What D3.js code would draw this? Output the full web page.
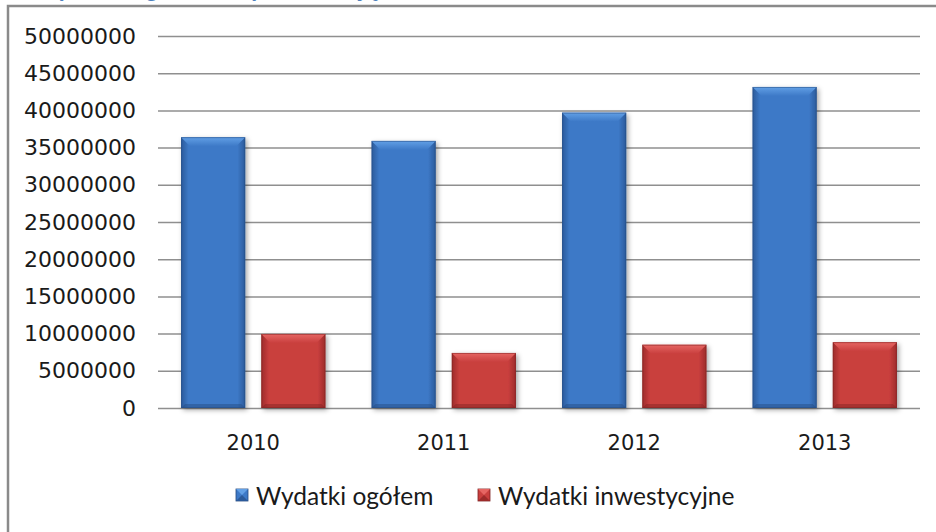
<!DOCTYPE html>
<html>
<head>
<meta charset="utf-8">
<script src="https://cdn.jsdelivr.net/npm/d3@7"></script>
<style>
  body { margin: 0; background: #fff; }
  svg { display: block; }
</style>
</head>
<body>
<svg width="936" height="532"></svg>
<script>
const width = 936;
const height = 532;

// data
const years = ['2010', '2011', '2012', '2013'];
const seriesNames = ['Wydatki ogółem', 'Wydatki inwestycyjne'];
const ogolem = [36400000, 35900000, 39700000, 43150000];
const inwestycyjne = [9950000, 7400000, 8500000, 8850000];
const yTicks = [0, 5000000, 10000000, 15000000, 20000000, 25000000, 30000000, 35000000, 40000000, 45000000, 50000000];

const plot = {left: 158, right: 920, top: 36, bottom: 408};
const palettes = [
    {edge: '#2b5a9a', mid: '#3d79c7', light: '#62a0e6', dark: '#23497f'},
    {edge: '#9c2b2a', mid: '#c93f3e', light: '#e66663', dark: '#7e2221'}
];

const svg = d3.select('svg');
const defs = svg.append('defs');

// soft drop shadow under the bars
const shadow = defs.append('filter').attr('id', 'shadow')
    .attr('x', '-20%').attr('y', '-20%').attr('width', '150%').attr('height', '150%');
shadow.append('feDropShadow')
    .attr('dx', 2).attr('dy', 2).attr('stdDeviation', 2.5)
    .attr('flood-color', '#000').attr('flood-opacity', 0.35);

palettes.forEach((p, i) => {
    const body = defs.append('linearGradient').attr('id', 'body' + i)
        .attr('x1', 0).attr('x2', 1).attr('y1', 0).attr('y2', 0);
    [[0, p.edge], [0.12, p.mid], [0.88, p.mid], [1, p.edge]].forEach(s => {
        body.append('stop').attr('offset', s[0]).attr('stop-color', s[1]);
    });
    const top = defs.append('linearGradient').attr('id', 'top' + i)
        .attr('x1', 0).attr('x2', 0).attr('y1', 0).attr('y2', 1);
    top.append('stop').attr('offset', 0).attr('stop-color', p.light);
    top.append('stop').attr('offset', 1).attr('stop-color', p.mid);
});

// title, mostly cut off by the top of the picture (as in the source)
svg.append('text')
    .attr('x', 34).attr('y', -3)
    .attr('font-family', 'Lato, "Open Sans", sans-serif')
    .attr('font-style', 'italic').attr('font-weight', 'bold')
    .attr('font-size', 26).attr('fill', '#4f81bd')
    .text('Wydatki ogółem i wydatki majątkowe w latach 2010 - 2013');

// frame
svg.append('rect')
    .attr('x', 8).attr('y', 6)
    .attr('width', width + 20).attr('height', height + 20)
    .attr('fill', 'none').attr('stroke', '#8a8a8a').attr('stroke-width', 2.5);

const y = d3.scaleLinear().domain([0, 50000000]).range([plot.bottom, plot.top]);
const x0 = d3.scaleBand().domain(years).range([plot.left, plot.right]).paddingInner(0.242).paddingOuter(0.121);
const x1 = d3.scaleBand().domain([0, 1]).range([0, x0.bandwidth()]).paddingInner(0.2);

// gridlines + y labels
const yAxis = d3.axisLeft(y)
    .tickValues(yTicks)
    .tickSize(-(plot.right - plot.left))
    .tickPadding(22)
    .tickFormat(d3.format('d'));

const yg = svg.append('g')
    .attr('transform', 'translate(' + plot.left + ',0)')
    .call(yAxis);
yg.select('.domain').remove();
yg.selectAll('.tick line').attr('stroke', '#8f8f8f').attr('stroke-width', 1.5);
yg.selectAll('.tick text')
    .attr('font-family', '"DejaVu Sans", sans-serif')
    .attr('font-size', 22).attr('fill', '#1a1a1a');

// x labels
const xAxis = d3.axisBottom(x0).tickSize(0).tickPadding(27);
const xg = svg.append('g')
    .attr('transform', 'translate(0,' + plot.bottom + ')')
    .call(xAxis);
xg.select('.domain').remove();
xg.selectAll('.tick text')
    .attr('font-family', '"DejaVu Sans", sans-serif')
    .attr('font-size', 21).attr('fill', '#1a1a1a');

// bars
const rows = years.map((yr, i) => ({year: yr, values: [ogolem[i], inwestycyjne[i]]}));

function bevelBar(g, bx, by, bw, bh, i) {
    const p = palettes[i];
    const b = Math.min(9, bh / 2);
    g.append('rect')
        .attr('x', bx).attr('y', by).attr('width', bw).attr('height', bh)
        .attr('fill', 'url(#body' + i + ')')
        .attr('filter', 'url(#shadow)');
    // top bevel
    g.append('path')
        .attr('d', `M${bx},${by}L${bx + bw},${by}L${bx + bw - b},${by + b}L${bx + b},${by + b}Z`)
        .attr('fill', 'url(#top' + i + ')');
    // bottom bevel
    g.append('path')
        .attr('d', `M${bx},${by + bh}L${bx + bw},${by + bh}L${bx + bw - 4},${by + bh - 4}L${bx + 4},${by + bh - 4}Z`)
        .attr('fill', p.dark).attr('opacity', 0.45);
    g.append('rect')
        .attr('x', bx + 0.5).attr('y', by + 0.5).attr('width', bw - 1).attr('height', bh - 1)
        .attr('fill', 'none').attr('stroke', p.dark).attr('stroke-opacity', 0.5);
}

svg.append('g').selectAll('g').data(rows).join('g')
    .attr('transform', d => 'translate(' + x0(d.year) + ',0)')
    .each(function(d) {
        const g = d3.select(this);
        d.values.forEach((v, i) => {
            bevelBar(g, x1(i), y(v), x1.bandwidth(), y(0) - y(v), i);
        });
    });

// legend
const legendX = [236, 478];
const legend = svg.append('g');
seriesNames.forEach((name, i) => {
    const lg = legend.append('g').attr('transform', 'translate(' + legendX[i] + ',489)');
    const p = palettes[i];
    lg.append('rect').attr('width', 12).attr('height', 12).attr('fill', p.mid).attr('stroke', p.dark).attr('stroke-width', 0.8);
    lg.append('path').attr('d', 'M0,0L12,0L6,6Z').attr('fill', p.light);
    lg.append('path').attr('d', 'M0,12L12,12L6,6Z').attr('fill', p.edge);
    lg.append('text')
        .attr('x', 20).attr('y', 16)
        .attr('font-family', 'Lato, sans-serif')
        .attr('font-size', 24.5).attr('fill', '#1a1a1a')
        .text(name);
});
</script>
</body>
</html>
